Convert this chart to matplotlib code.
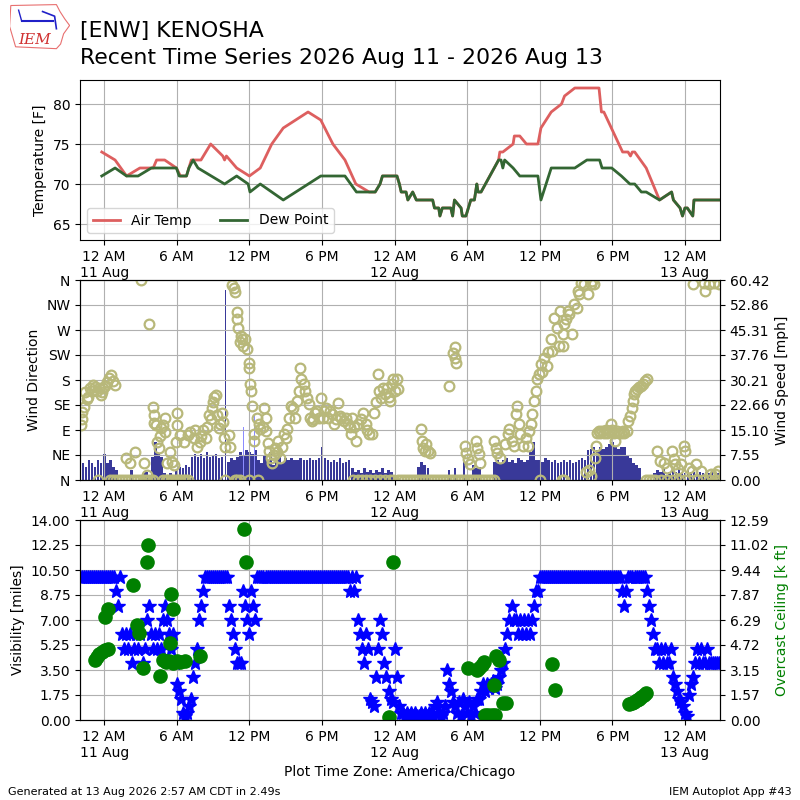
import numpy as np
import matplotlib
matplotlib.use("Agg")
import matplotlib.pyplot as plt
import matplotlib.dates as mdates
from matplotlib.ticker import FuncFormatter
from matplotlib.patches import Polygon
from datetime import datetime

# all times are hours since 2026-08-11 00:00 America/Chicago
temp_hr = [-0.2, 0.9, 1.85, 2.95, 4.05, 4.33, 5.0, 5.97, 6.3, 6.8,
           7.2, 8.0, 8.8, 9.8, 9.95, 10.1, 10.95, 12.0, 12.9, 13.85,
           14.8, 16.85, 17.9, 18.9, 19.9, 20.8, 21.9, 22.4, 22.8, 23.0,
           24.2, 24.4, 24.55, 24.95, 25.1, 25.5, 25.8, 27.15, 27.3, 27.65,
           27.75, 27.95, 28.65, 28.8, 28.95, 29.5, 29.6, 29.9, 30.3, 30.6,
           30.8, 30.9, 31.15, 32.6, 32.7, 32.95, 33.8, 33.9, 34.35, 34.9,
           35.85, 36.1, 36.95, 37.8, 38.05, 38.9, 40.9, 41.1, 41.3, 42.85,
           43.3, 43.5, 43.65, 43.85, 44.8, 45.9, 46.9, 47.05, 47.6, 47.8,
           48.0, 48.2, 48.65, 48.75, 50.9]
temp_f = [74, 73, 71, 72, 72, 73, 73, 72, 71, 71,
          73, 73, 75, 73.5, 73, 73.5, 72, 71, 72, 75,
          77, 79, 78, 75, 73, 70, 69, 69, 70, 71,
          71, 70, 69, 69, 68, 69, 68, 68, 67, 67,
          66, 67, 67, 66, 68, 67, 66, 66, 68, 68,
          70, 69, 69, 73, 74, 74, 75, 76, 76, 75,
          75, 77, 79, 80, 81, 82, 82, 79, 79, 74,
          74, 73.5, 74, 74, 72, 68, 69, 68, 67, 66,
          67, 67, 66, 68, 68]

dwpt_hr = [-0.2, 0.9, 1.85, 2.8, 3.9, 5.97, 6.2, 6.8, 7.0, 7.35,
           7.75, 9.95, 10.95, 11.9, 12.05, 12.9, 14.8, 17.9, 19.9, 20.85,
           22.4, 22.8, 23.0, 24.2, 24.4, 24.55, 24.95, 25.1, 25.5, 25.8,
           27.15, 27.3, 27.65, 27.75, 27.95, 28.65, 28.8, 28.95, 29.5, 29.6,
           29.9, 30.3, 30.6, 30.8, 30.9, 31.15, 32.6, 32.8, 32.95, 33.1,
           33.8, 34.35, 35.85, 36.1, 36.95, 38.9, 39.9, 40.95, 41.15, 41.95,
           42.75, 43.45, 43.85, 44.4, 44.8, 45.9, 46.9, 47.05, 47.6, 47.8,
           48.0, 48.2, 48.65, 48.75, 50.9]
dwpt_f = [71, 72, 71, 71, 72, 72, 71, 71, 72, 73,
          72, 70, 71, 70, 69, 70, 68, 71, 71, 69,
          69, 70, 71, 71, 70, 69, 69, 68, 69, 68,
          68, 67, 67, 66, 67, 67, 66, 68, 67, 66,
          66, 68, 68, 70, 69, 69, 73, 73, 72, 73,
          72, 71, 71, 68, 72, 72, 73, 73, 72, 72,
          71, 70, 70, 69, 69, 68, 69, 68, 67, 66,
          67, 67, 66, 68, 68]

# wind speed every 15 minutes starting 10 Aug 22:00 (one row per hour)
wind_mph = [3.5, 5, 4, 6,   5, 4, 6, 5,   8, 5, 6, 4,   3, 0, 0, 0,
            0, 3, 0, 0,   0, 2, 2.5, 0,   7, 11.5, 8, 7,   2, 0, 2, 1.5,
            3, 4, 3.5, 4.5,   4, 7, 8, 7,   8, 6.5, 8.5, 7,   7.5, 8, 6.5, 7,
            57.4, 5.5, 6.5, 6,   7, 8.5, 7.5, 9,   8.5, 8, 9, 6,   5, 7.5, 6, 8.5,
            4.5, 6, 7.5, 5,   6.5, 6, 6.5, 6,   6, 6.5, 6, 6,   6.5, 6, 6, 6.5,
            10, 6.5, 6, 5.5,   6, 5.5, 6.5, 5,   5.5, 6, 3.5, 2.5,   3, 2, 3.5, 2.5,
            3, 2, 3, 2.5,   3.5, 2, 3, 2.5,   0, 0, 0, 0,   0, 0, 0, 0,
            4, 5.5, 4.5, 3.5,   0, 0, 0, 0,   0, 0, 3, 0,   3.5, 0, 0, 5.5,
            0, 0, 4.5, 3.5,   4, 0, 0, 0,   0, 5.5, 6, 5,   6, 6.5, 5.5, 6,
            5, 6.5, 6, 5.5,   6, 8.5, 11.5, 6,   6, 5.5, 6.5, 6,   5.5, 6, 5, 5.5,
            6, 5.5, 6, 5,   5.5, 6, 6.5, 6,   9, 9.5, 10, 9,   10, 9.5, 10, 11,
            11.5, 10, 9.5, 10,   10, 7.5, 6.5, 5,   4.5, 3.5, 0, 0,   0, 0, 2, 3,
            2.5, 3.5, 1.5, 2.5,   3, 2.5, 3.5, 2,   2, 3, 2.5, 2.5,   3, 2.5, 2, 2.5,
            2, 2.5, 2.5, 2]
gust_hr = [11.5, 12.4]
gust_mph = [16.1, 19.6]

dir_hr = [-1.9, -1.85, -1.8, -1.7, -1.6, -1.45, -1.3, -1.15, -1.0, -0.9,
          -0.75, -0.6, -0.45, -0.3, -0.2, -0.1, 0.05, 0.2, 0.4, 0.6,
          0.75, 0.87, 1.83, 2.1, 2.56, 3.05, 3.3, 3.5, 3.7, 4.0,
          4.1, 4.15, 4.3, 4.4, 4.5, 4.6, 4.7, 4.85, 5.0, 5.05,
          5.2, 5.4, 5.6, 5.8, 5.9, 6.0, 6.05, 6.3, 6.6, 6.9,
          7.1, 7.4, 7.5, 7.7, 7.9, 8.0, 8.2, 8.4, 8.5, 8.65,
          8.8, 8.9, 9.0, 9.1, 9.2, 9.3, 9.5, 9.6, 9.7, 9.8,
          9.9, 9.95, 10.3, 10.4, 10.55, 10.7, 10.8, 10.95, 11.0, 11.1,
          11.2, 11.3, 11.4, 11.5, 11.6, 11.8, 11.95, 12.0, 12.05, 12.1,
          12.2, 12.35, 12.4, 12.6, 12.8, 12.9, 13.1, 13.2, 13.35, 13.4,
          13.5, 13.6, 13.75, 13.9, 14.0, 14.15, 14.3, 14.4, 14.55, 14.7,
          14.85, 15.0, 15.1, 15.3, 15.4, 15.6, 15.8, 15.95, 16.1, 16.2,
          16.3, 16.5, 16.6, 16.75, 16.9, 17.0, 17.15, 17.3, 17.45, 17.6,
          17.75, 17.9, 18.05, 18.2, 18.35, 18.5, 18.7, 18.85, 19.0, 19.15,
          19.3, 19.45, 19.6, 19.8, 20.0, 20.15, 20.3, 20.4, 20.5, 20.65,
          20.8, 21.0, 21.2, 21.4, 21.6, 21.75, 21.9, 22.1, 22.3, 22.45,
          22.6, 22.75, 22.9, 23.05, 23.2, 23.4, 23.5, 23.6, 23.8, 23.9,
          24.0, 24.2, 24.3, 26.2, 26.25, 26.35, 26.5, 26.6, 26.8, 26.9,
          28.47, 28.8, 28.96, 29.0, 29.1, 29.8, 29.9, 30.05, 30.2, 30.75,
          30.85, 31.0, 31.1, 32.2, 32.35, 32.5, 32.75, 33.1, 33.35, 33.5,
          33.7, 33.9, 34.0, 34.15, 34.3, 34.4, 34.6, 34.85, 35.0, 35.1,
          35.25, 35.4, 35.55, 35.7, 35.8, 35.95, 36.1, 36.2, 36.35, 36.6,
          36.7, 36.9, 37.0, 37.2, 37.45, 37.6, 37.7, 37.9, 37.95, 38.0,
          38.15, 38.3, 38.45, 38.7, 38.8, 39.1, 39.15, 39.25, 39.4, 39.7,
          39.85, 39.95, 40.1, 40.2, 40.25, 40.35, 40.5, 40.6, 40.65, 40.75,
          40.9, 41.0, 41.15, 41.3, 41.45, 41.6, 41.75, 41.85, 42.0, 42.1,
          42.25, 42.4, 42.55, 42.7, 42.9, 43.0, 43.2, 43.3, 43.5, 43.6,
          43.7, 43.8, 43.9, 44.05, 44.2, 44.35, 44.5, 44.7, 44.9, 45.7,
          45.9, 46.3, 46.5, 46.95, 47.1, 47.2, 47.4, 47.7, 47.9, 48.0,
          48.3, 48.55, 48.7, 48.9, 49.3, 49.6, 49.7, 50.0, 50.15, 50.4,
          50.5, 50.7, 50.8]
dir_deg = [99, 110, 123, 132, 159, 145, 150, 165, 160, 171,
           168, 160, 165, 153, 158, 165, 170, 177, 183, 189,
           178, 171, 39, 30, 51, 360, 30, 9, 280, 132,
           117, 102, 99, 69, 57, 80, 93, 99, 111, 87,
           30, 51, 33, 27, 69, 99, 120, 81, 69, 81,
           87, 75, 90, 60, 69, 80, 90, 75, 95, 117,
           110, 129, 140, 150, 153, 117, 93, 100, 120, 105,
           75, 60, 81, 60, 351, 345, 339, 303, 290, 273,
           249, 260, 253, 241, 253, 235, 211, 202, 172, 160,
           133, 82, 70, 112, 100, 91, 95, 130, 112, 88,
           67, 52, 40, 31, 45, 58, 50, 70, 40, 60,
           82, 75, 91, 112, 133, 130, 112, 142, 160, 201,
           181, 172, 160, 148, 136, 112, 106, 110, 120, 124,
           112, 148, 112, 124, 130, 112, 124, 118, 100, 110,
           139, 115, 112, 106, 112, 100, 95, 82, 112, 95,
           70, 100, 110, 121, 100, 90, 82, 82, 121, 140,
           190, 160, 148, 165, 154, 166, 150, 142, 172, 181,
           160, 181, 163, 91, 70, 58, 52, 64, 52, 49,
           170, 228, 240, 219, 210, 61, 49, 37, 28, 70,
           58, 46, 31, 70, 58, 49, 40, 64, 82, 91,
           70, 61, 118, 133, 100, 82, 61, 76, 61, 88,
           100, 118, 142, 160, 181, 190, 208, 195, 220, 206,
           230, 254, 232, 292, 274, 241, 304, 241, 262, 280,
           290, 304, 298, 262, 316, 310, 340, 334, 355, 352,
           15, 334, 18, 352, 8, 358, 352, 40, 61, 85,
           88, 85, 88, 85, 90, 85, 88, 100, 90, 85,
           70, 88, 85, 85, 88, 85, 88, 106, 115, 130,
           142, 154, 160, 163, 168, 170, 172, 178, 181, 52,
           34, 31, 22, 52, 37, 28, 19, 28, 61, 52,
           22, 16, 352, 28, 16, 355, 340, 352, 10, 355,
           10, 16, 352]
# calm reports, plotted at 0 degrees
calm_hr = [-0.5, 0.5, 0.75, 1.0, 1.25, 1.5, 1.75, 2.0, 2.25, 2.5, 2.75, 3.0,
           3.25, 3.5, 3.75, 4.0, 4.9, 5.1, 5.3, 5.5, 5.7, 5.9, 6.1, 6.3,
           6.5, 6.7, 6.9, 10.0, 10.8, 11.0, 11.2, 12.0, 12.7,
           20.6, 21.0, 21.3, 21.6, 22.0, 22.4, 22.8, 23.2, 23.6, 23.9,
           24.25, 24.5, 24.75, 25.0, 25.25, 25.5, 25.75, 26.0, 26.25, 26.5,
           26.75, 27.0, 27.25, 27.5, 27.75, 28.0, 28.25, 28.5, 28.75, 29.0,
           29.25, 29.5, 29.75, 30.0, 30.25, 30.5, 30.75, 31.0, 31.25, 31.5,
           31.75, 32.0, 32.25, 36.0, 37.8, 38.0,
           44.75, 45.0, 45.25, 45.5, 46.0, 46.5, 47.0, 47.5, 48.0, 49.0,
           49.5, 50.0, 50.5, 50.8]

# visibility every 10 minutes starting 10 Aug 22:00 (one row per hour)
vis_mi = [10, 10, 10, 10, 10, 10,
          10, 10, 10, 10, 10, 10,
          10, 10, 10, 10, 10, 10,
          9, 8, 10, 6, 5, 6,
          5, 6, 4, 5, 6, 5,
          6, 4, 5, 7, 8, 6,
          5, 6, 5, 6, 5, 7,
          8, 7, 6, 5, 6, 4,
          2.5, 2, 1.5, 0.5, 0.25, 0.5,
          1, 1.5, 3, 4, 5, 7,
          8, 9, 10, 10, 10, 10,
          10, 10, 10, 10, 10, 10,
          10, 10, 8, 7, 6, 5,
          4, 4, 4, 9, 8, 7,
          6, 9, 8, 7, 10, 10,
          10, 10, 10, 10, 10, 10,
          10, 10, 10, 10, 10, 10,
          10, 10, 10, 10, 10, 10,
          10, 10, 10, 10, 10, 10,
          10, 10, 10, 10, 10, 10,
          10, 10, 10, 10, 10, 10,
          10, 10, 10, 10, 10, 10,
          10, 10, 9, 10, 9, 10,
          7, 6, 5, 4, 6, 5,
          1.5, 1.25, 1, 3, 5, 7,
          6, 4, 3, 2, 1.5, 1.25,
          5, 3, 1, 0.5, 0.5, 0.25,
          0.5, 0.25, 0.5, 0.25, 0.5, 0.25,
          0.25, 0.5, 0.25, 0.5, 0.25, 0.5,
          0.5, 0.25, 1, 1.25, 0.5, 0.25,
          0.5, 1, 3.5, 2.5, 2, 1.25,
          1, 0.5, 1.25, 0.25, 1.5, 1,
          0.5, 1.25, 0.25, 1, 0.5, 1.5,
          1.5, 2, 2.5, 2, 2.5, 2.25,
          2.5, 2.75, 2.25, 2.5, 3, 3.5,
          4, 5, 6, 7, 8, 7,
          7, 6, 7, 6, 7, 6,
          7, 6, 7, 8, 9, 9,
          10, 10, 10, 10, 10, 10,
          10, 10, 10, 10, 10, 10,
          10, 10, 10, 10, 10, 10,
          10, 10, 10, 10, 10, 10,
          10, 10, 10, 10, 10, 10,
          10, 10, 10, 10, 10, 10,
          10, 10, 10, 10, 10, 9,
          8, 9, 10, 10, 10, 10,
          10, 10, 10, 10, 10, 9,
          8, 7, 6, 5, 5, 4,
          5, 4, 5, 4, 4, 5,
          3, 2.5, 2, 1.5, 1.25, 1,
          0.5, 0.25, 1.75, 2.5, 3, 4,
          5, 4, 5, 4, 4, 5,
          4, 4, 4, 4, 4, 4]

ceil_hr = [-0.8, -0.6, -0.4, -0.2, 0.05, 0.3,
           0.05, 0.3, 2.4, 2.7, 2.9, 3.2, 3.5, 3.65, 4.6,
           4.85, 5.1, 5.35, 5.7, 6.0, 6.3, 6.65, 5.45, 5.55, 5.65, 7.9,
           11.55, 11.75, 23.5, 23.85,
           30.05, 30.8, 31.0, 31.2, 31.4, 31.45, 31.75, 32.05, 32.3, 32.2, 32.4, 32.65, 32.95, 33.2,
           37.05, 37.3,
           43.4, 43.6, 43.8, 44.0, 44.2, 44.4, 44.6, 44.8]
ceil_kft = [3.8, 3.95, 4.15, 4.3, 4.4, 4.5,
            6.5, 7.0, 8.5, 6.0, 5.5, 3.3, 9.95, 11.0, 2.75,
            3.75, 3.65, 3.7, 3.6, 3.7, 3.65, 3.7, 4.85, 7.95, 7.0, 4.05,
            12.0, 9.95, 0.2, 9.95,
            3.25, 3.15, 3.3, 3.45, 3.65, 0.3, 0.3, 0.3, 0.3, 2.2, 4.0, 3.8, 1.05, 1.1,
            3.55, 1.9,
            1.0, 1.05, 1.15, 1.25, 1.35, 1.45, 1.55, 1.7]

dir_labels = ["N", "NE", "E", "SE", "S", "SW", "W", "NW", "N"]
spd_ticklabels = ["0.00", "7.55", "15.10", "22.66", "30.21", "37.76", "45.31", "52.86", "60.42"]
ceil_ticklabels = ["0.00", "1.57", "3.15", "4.72", "6.29", "7.87", "9.44", "11.02", "12.59"]

base = mdates.date2num(datetime(2026, 8, 11))


def hx(h):
    return base + np.asarray(h, dtype=float) / 24.0


spd_hr = -2.0 + 0.25 * np.arange(len(wind_mph))
vis_hr = -2.0 + np.arange(len(vis_mi)) / 6.0
x0, x1 = hx(-2.0), hx(50.9)


def timefmt(x, pos):
    d = mdates.num2date(x)
    lab = {0: "12 AM", 6: "6 AM", 12: "12 PM", 18: "6 PM"}.get(d.hour, "")
    if d.hour == 0:
        lab += "\n%d %s" % (d.day, d.strftime("%b"))
    return lab


def timeaxis(ax):
    ax.set_xlim(x0, x1)
    ax.xaxis.set_major_locator(mdates.HourLocator(byhour=[0, 6, 12, 18]))
    ax.xaxis.set_major_formatter(FuncFormatter(timefmt))


fig = plt.figure(figsize=(8, 8), dpi=100)

# title + logo
fig.text(0.1, 0.954, "[ENW] KENOSHA", fontsize=15.8)
fig.text(0.1, 0.920, "Recent Time Series 2026 Aug 11 - 2026 Aug 13", fontsize=15.8)
lax = fig.add_axes([0.012, 0.938, 0.075, 0.058])
lax.axis("off")
lax.set_xlim(0, 1)
lax.set_ylim(0, 1)
lax.add_patch(Polygon([(0.02, 0.95), (0.78, 0.97), (0.84, 0.82), (0.92, 0.66), (1.0, 0.52),
                       (0.9, 0.34), (0.85, 0.12), (0.78, 0.02), (0.1, 0.06), (0.0, 0.5)],
                      closed=True, fill=False, ec="#e87070", lw=0.8))
lax.plot([0.2, 0.72], [0.62, 0.62], color="#2020c8", lw=1.5)
lax.plot([0.2, 0.15], [0.62, 0.85], color="#2020c8", lw=1.0)
lax.plot([0.55, 0.75, 0.78], [0.82, 0.72, 0.45], color="#2020c8", lw=1.2)
lax.text(0.42, 0.06, "IEM", color="#d03030", fontsize=11, style="italic",
         family="serif", ha="center", va="bottom")

# temperature
ax1 = fig.add_axes([0.1, 0.7, 0.8, 0.2])
ax1.plot(hx(temp_hr), temp_f, color="#dd5f5f", lw=2, label="Air Temp")
ax1.plot(hx(dwpt_hr), dwpt_f, color="#336633", lw=2, label="Dew Point")
ax1.set_ylim(63, 83)
ax1.set_ylabel("Temperature [F]")
ax1.grid(True)
ax1.legend(loc="lower left", ncol=2)
timeaxis(ax1)

# wind
ax2 = fig.add_axes([0.1, 0.4, 0.8, 0.25])
ax2b = ax2.twinx()
bar_w = np.where(np.asarray(wind_mph) > 40, 5.0, 13.0) / 1440.0
ax2b.bar(hx(spd_hr), wind_mph, width=bar_w, color="#393999")
ax2b.bar(hx(gust_hr), gust_mph, width=5.0 / 1440.0, color="#8c8cff")
ax2b.set_ylim(0, 60.42)
ax2b.set_yticks(np.linspace(0, 60.42, 9))
ax2b.set_yticklabels(spd_ticklabels)
ax2b.set_ylabel("Wind Speed [mph]")
ax2.set_zorder(ax2b.get_zorder() + 1)
ax2.patch.set_visible(False)
ax2.plot(hx(dir_hr), dir_deg, "o", mfc="none", mec="#b8b87a", ms=7, mew=1.6)
ax2.plot(hx(calm_hr), np.zeros(len(calm_hr)), "o", mfc="none", mec="#b8b87a", ms=7, mew=1.6)
ax2.set_ylim(0, 360)
ax2.set_yticks(range(0, 361, 45))
ax2.set_yticklabels(dir_labels)
ax2.set_ylabel("Wind Direction")
ax2.grid(True)
timeaxis(ax2)
timeaxis(ax2b)

# visibility + ceiling
ax3 = fig.add_axes([0.1, 0.1, 0.8, 0.25])
ax3.plot(hx(vis_hr), vis_mi, "*", color="b", ms=10)
ax3.set_ylim(0, 14)
ax3.set_yticks(np.arange(0, 14.01, 1.75))
ax3.set_yticklabels(["%.2f" % v for v in np.arange(0, 14.01, 1.75)])
ax3.set_ylabel("Visibility [miles]")
ax3.grid(True)
ax3.set_xlabel("Plot Time Zone: America/Chicago")
ax3b = ax3.twinx()
ax3b.plot(hx(ceil_hr), ceil_kft, "o", color="g", ms=9.5)
ax3b.set_ylim(0, 12.59)
ax3b.set_yticks(np.linspace(0, 12.59, 9))
ax3b.set_yticklabels(ceil_ticklabels)
ax3b.set_ylabel("Overcast Ceiling [k ft]", color="g")
timeaxis(ax3)
timeaxis(ax3b)

fig.text(0.01, 0.006, "Generated at 13 Aug 2026 2:57 AM CDT in 2.49s", fontsize=8)
fig.text(0.99, 0.006, "IEM Autoplot App #43", fontsize=8, ha="right")

fig.savefig("out.png", dpi=100)
